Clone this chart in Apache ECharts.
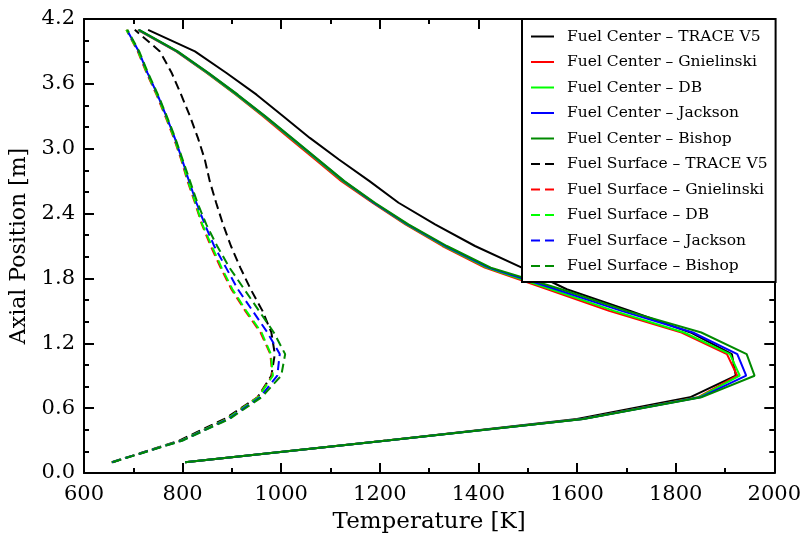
<!DOCTYPE html>
<html>
<head>
<meta charset="utf-8">
<script src="https://cdn.jsdelivr.net/npm/echarts@6/dist/echarts.min.js"></script>
<style>
  html, body { margin: 0; padding: 0; background: #ffffff; }
  #chart { width: 804px; height: 545px; }
</style>
</head>
<body>
<div id="chart"></div>
<script>
// Axial node positions [m] (bottom to top)
const axialPositions = [0.1, 0.3, 0.5, 0.7, 0.9, 1.1, 1.3, 1.5, 1.7, 1.9, 2.1,
                        2.3, 2.5, 2.7, 2.9, 3.1, 3.3, 3.5, 3.7, 3.9, 4.1];

// Fuel centerline temperatures [K]
const centerTrace    = [805, 1215, 1600, 1829, 1922, 1914, 1830, 1708, 1579, 1488, 1393,
                        1312, 1238, 1179, 1117, 1058, 1004, 950, 889, 825, 730];
const centerGniel    = [805, 1213, 1610, 1845, 1925, 1904, 1812, 1665, 1540, 1413, 1327,
                        1252, 1185, 1122, 1069, 1016, 963, 908, 849, 787, 709];
const centerDB       = [805, 1214, 1611, 1847, 1930, 1910, 1817, 1675, 1547, 1417, 1330,
                        1254, 1187, 1125, 1072, 1019, 965, 909, 850, 788, 710];
const centerJackson  = [805, 1215, 1612, 1850, 1943, 1925, 1835, 1690, 1557, 1421, 1333,
                        1256, 1188, 1127, 1074, 1021, 967, 911, 852, 789, 711];
const centerBishop   = [805, 1215, 1613, 1852, 1960, 1944, 1852, 1700, 1568, 1425, 1336,
                        1258, 1190, 1128, 1075, 1022, 968, 912, 853, 790, 712];

// Fuel surface temperatures [K]
const surfaceTrace   = [658, 793, 885, 952, 980, 987, 980, 962, 938, 917, 898,
                        882, 868, 855, 845, 831, 815, 797, 778, 754, 703];
const surfaceGniel   = [656, 797, 890, 952, 982, 978, 958, 927, 899, 877, 857,
                        839, 825, 810, 797, 782, 765, 747, 727, 709, 686];
const surfaceDB      = [656, 797, 890, 953, 983, 979, 960, 929, 901, 879, 859,
                        840, 826, 811, 798, 783, 766, 748, 728, 710, 686];
const surfaceJackson = [657, 799, 893, 957, 992, 997, 972, 942, 912, 888, 864,
                        845, 828, 813, 799, 784, 767, 749, 729, 711, 687];
const surfaceBishop  = [658, 800, 895, 960, 1000, 1008, 985, 955, 925, 895, 870,
                        848, 830, 815, 800, 785, 768, 750, 730, 712, 688];

// Tick labels
const xTickLabels = ['600', '800', '1000', '1200', '1400', '1600', '1800', '2000'];
const yTickLabels = ['0.0', '0.6', '1.2', '1.8', '2.4', '3.0', '3.6', '4.2'];

const seriesNames = [
  'Fuel Center – TRACE V5', 'Fuel Center – Gnielinski', 'Fuel Center – DB',
  'Fuel Center – Jackson', 'Fuel Center – Bishop',
  'Fuel Surface – TRACE V5', 'Fuel Surface – Gnielinski', 'Fuel Surface – DB',
  'Fuel Surface – Jackson', 'Fuel Surface – Bishop'
];
const seriesTemps = [
  centerTrace, centerGniel, centerDB, centerJackson, centerBishop,
  surfaceTrace, surfaceGniel, surfaceDB, surfaceJackson, surfaceBishop
];
const palette = ['#000000', '#ff0000', '#00ff00', '#0000ff', '#008a00'];

const FONT = 'DejaVu Serif';

function pairs(temps) {
  return temps.map((t, i) => [t, axialPositions[i]]);
}

const series = seriesTemps.map((temps, k) => ({
  name: seriesNames[k],
  type: 'line',
  data: pairs(temps),
  symbol: 'none',
  showSymbol: false,
  smooth: false,
  animation: false,
  lineStyle: {
    color: palette[k % 5],
    width: 2,
    type: k < 5 ? 'solid' : [9, 5]
  },
  itemStyle: { color: palette[k % 5] },
  z: 2
}));

function xAxisDef(isMain) {
  return {
    type: 'value',
    min: 600, max: 2000, interval: 200,
    position: isMain ? 'bottom' : 'top',
    axisLine: { show: true, onZero: false, lineStyle: { color: '#000', width: 2 } },
    axisTick: { show: true, inside: true, length: 10, lineStyle: { color: '#000', width: 2 } },
    minorTick: { show: true, splitNumber: 2, length: 5, lineStyle: { color: '#000', width: 2 } },
    splitLine: { show: false },
    axisLabel: {
      show: isMain,
      margin: 11,
      fontFamily: FONT, fontSize: 21, color: '#000',
      formatter: v => xTickLabels[Math.round((v - 600) / 200)] ?? ''
    },
    name: isMain ? 'Temperature [K]' : '',
    nameLocation: 'middle',
    nameGap: 38,
    nameTextStyle: { fontFamily: FONT, fontSize: 23, color: '#000' }
  };
}

function yAxisDef(isMain) {
  return {
    type: 'value',
    min: 0, max: 4.2, interval: 0.6,
    position: isMain ? 'left' : 'right',
    axisLine: { show: true, onZero: false, lineStyle: { color: '#000', width: 2 } },
    axisTick: { show: true, inside: true, length: 10, lineStyle: { color: '#000', width: 2 } },
    minorTick: { show: true, splitNumber: 3, length: 5, lineStyle: { color: '#000', width: 2 } },
    splitLine: { show: false },
    axisLabel: {
      show: isMain,
      margin: 9,
      fontFamily: FONT, fontSize: 21, color: '#000',
      formatter: v => yTickLabels[Math.round(v / 0.6)] ?? ''
    },
    name: isMain ? 'Axial Position [m]' : '',
    nameLocation: 'middle',
    nameGap: 46,
    nameRotate: 90,
    nameTextStyle: { fontFamily: FONT, fontSize: 22, color: '#000' }
  };
}

const chart = echarts.init(document.getElementById('chart'), null, { renderer: 'canvas' });
chart.setOption({
  animation: false,
  backgroundColor: '#ffffff',
  grid: { left: 84, right: 29, top: 19, bottom: 72, containLabel: false },
  xAxis: [xAxisDef(true), xAxisDef(false)],
  yAxis: [yAxisDef(true), yAxisDef(false)],
  legend: {
    orient: 'vertical',
    left: 522, top: 19,
    padding: [9.5, 8, 8, 8],
    itemWidth: 23,
    itemHeight: 14,
    itemGap: 9.5,
    backgroundColor: '#ffffff',
    borderColor: '#000000',
    borderWidth: 2,
    borderRadius: 0,
    align: 'left',
    itemStyle: { opacity: 0, borderWidth: 0 },
    textStyle: { fontFamily: FONT, fontSize: 15.5, color: '#000', padding: [0, 0, 0, 8] },
    data: seriesNames,
    z: 10
  },
  series: series
});
</script>
</body>
</html>
